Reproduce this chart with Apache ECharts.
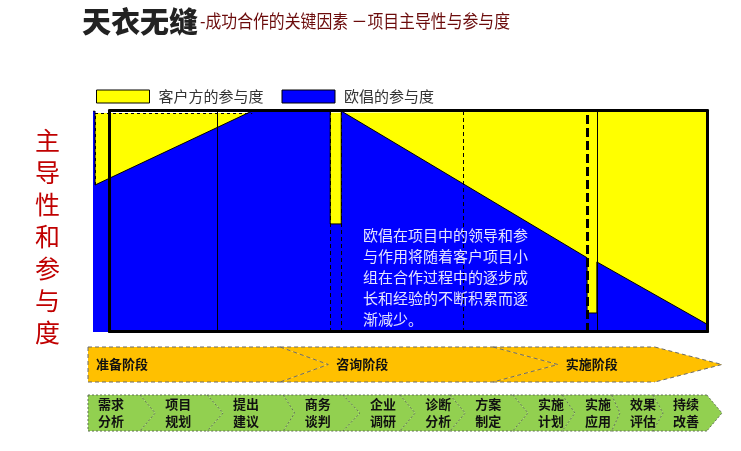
<!DOCTYPE html>
<html>
<head>
<meta charset="utf-8">
<script src="https://cdn.jsdelivr.net/npm/echarts/dist/echarts.min.js"></script>
<style>
  html, body { margin: 0; padding: 0; background: #fff; }
  #chart { width: 741px; height: 451px; }
</style>
</head>
<body>
<div id="chart"></div>
<script>
// Project progress runs 0–100 along x; involvement share runs 0–100 along y.
const ouchangShare = [
  [0, 100], [0.33, 100], [0.33, 66.5], [25.9, 100], [38.6, 100], [38.6, 48.9],
  [40.4, 48.9], [40.4, 100], [80.4, 33.6], [80.4, 8.6], [82.0, 8.6], [82.0, 31.7], [100, 3.4]
];
const clientShare = [[0.33, 99.1], [30, 99.1], [30, 100], [100, 100]];

// Milestone dividers on the progress axis
const solidDividers = [20.2, 82.0];
const dashedDividers = [38.6, 40.4, 60.2];
const stageDivider = 80.4;

// Phase band: name, where the chevron's shoulder sits, and where its tip points
const phaseNames = ['准备阶段', '咨询阶段', '实施阶段'];
const phaseEnd = [30.3, 63.9, 89.4];
const phaseTip = [37.9, 74.1, 100];

// Step band
const stepNames = ['需求\n分析', '项目\n规划', '提出\n建议', '商务\n谈判', '企业\n调研', '诊断\n分析',
  '方案\n制定', '实施\n计划', '实施\n应用', '效果\n评估', '持续\n改善'];
const stepEnd = [8.2, 18.8, 30.8, 40.2, 49.2, 57.1, 67.0, 74.8, 82.6, 89.1, 97.6];
const stepTip = [10.6, 21.3, 32.6, 42.9, 51.6, 59.5, 69.4, 76.8, 83.9, 90.7, 100];

const noteLines = ['欧倡在项目中的领导和参', '与作用将随着客户项目小', '组在合作过程中的逐步成',
  '长和经验的不断积累而逐', '渐减少。'];

const CJK = '"Noto Sans CJK SC", "Noto Sans", sans-serif';

function chevronData(ends, tips) {
  return ends.map((e, i) => [i ? ends[i - 1] : 0, i ? tips[i - 1] : 0, e, tips[i]]);
}

function chevronRenderer(names, fill, stroke, dash, font, lineHeight, gap) {
  return function (params, api) {
    const i = params.dataIndex;
    const prevEnd = api.value(0), prevTip = api.value(1), end = api.value(2), tip = api.value(3);
    const p = (x, y) => api.coord([x, y]);
    const edge = (pts) => ({ type: 'polyline', z2: 3, shape: { points: pts },
      style: { stroke: stroke, lineWidth: 1, lineDash: dash, fill: null } });
    const children = [
      { type: 'polygon', z2: 1,
        shape: { points: [p(prevEnd, 1), p(end, 1), p(tip, 0.5), p(end, 0), p(prevEnd, 0), p(prevTip, 0.5)] },
        style: { fill: fill } },
      edge([p(end, 1), p(tip, 0.5), p(end, 0)]),
      edge([p(prevEnd, 1), p(end, 1)]),
      edge([p(prevEnd, 0), p(end, 0)])
    ];
    if (i === 0) children.push(edge([p(0, 1), p(0, 0)]));
    const anchor = p(prevTip, 0.5);
    children.push({ type: 'text', z2: 4, x: anchor[0] + gap, y: anchor[1],
      style: { text: names[i], font: font, lineHeight: lineHeight, fill: '#111',
        verticalAlign: 'middle', align: 'left' } });
    return { type: 'group', children: children };
  };
}

// Thick black frame drawn from the axis lines of an empty grid
function frameAxis(pos) {
  return {
    type: 'value', gridIndex: 1, min: 0, max: 1, position: pos, z: 10,
    axisLine: { show: true, onZero: false, lineStyle: { color: '#000', width: 3 } },
    axisTick: { show: false }, axisLabel: { show: false }, splitLine: { show: false }
  };
}

const hiddenY = (g) => ({ type: 'value', gridIndex: g, min: 0, max: g === 0 ? 100 : 1, show: false });
const hiddenX = (g) => ({ type: 'value', gridIndex: g, min: 0, max: 100, show: false });

const chart = echarts.init(document.getElementById('chart'));
chart.setOption({
  animation: false,
  grid: [
    { left: 93, right: 33.5, top: 111, height: 221 },
    { left: 109.5, right: 33.5, top: 110.5, height: 221 },
    { left: 88, right: 19, top: 347, height: 35 },
    { left: 88, right: 19, top: 395, height: 36 }
  ],
  xAxis: [hiddenX(0), frameAxis('bottom'), frameAxis('top'), hiddenX(2), hiddenX(3)],
  yAxis: [hiddenY(0), frameAxis('left'), frameAxis('right'), hiddenY(2), hiddenY(3)],
  legend: {
    left: 91, top: 84, icon: 'rect', itemWidth: 53, itemHeight: 13, itemGap: 18,
    textStyle: { fontSize: 15, color: '#333', fontFamily: CJK, padding: [0, 0, 0, 4] },
    data: [
      { name: '客户方的参与度', itemStyle: { color: '#ffff00', borderColor: '#000', borderWidth: 1 } },
      { name: '欧倡的参与度', itemStyle: { color: '#0000ff', borderColor: '#000', borderWidth: 1 } }
    ]
  },
  series: [
    {
      name: '客户方的参与度', type: 'line', xAxisIndex: 0, yAxisIndex: 0,
      data: clientShare, symbol: 'none', color: '#ffff00',
      lineStyle: { width: 0 }, areaStyle: { color: '#ffff00', opacity: 1 },
      markLine: {
        silent: true, symbol: 'none', label: { show: false },
        lineStyle: { color: '#000', width: 1, type: [3, 3] },
        data: [
          [{ coord: clientShare[0] }, { coord: [ouchangShare[3][0], clientShare[0][1]] }],
          [{ coord: ouchangShare[2] }, { coord: clientShare[0] }]
        ]
      }
    },
    {
      name: '欧倡的参与度', type: 'line', xAxisIndex: 0, yAxisIndex: 0,
      data: ouchangShare, symbol: 'none', color: '#0000ff',
      lineStyle: { color: '#000', width: 1 }, areaStyle: { color: '#0000ff', opacity: 1 },
      markLine: {
        silent: true, symbol: 'none', label: { show: false },
        data: [
          ...solidDividers.map(x => ({ xAxis: x, lineStyle: { color: '#000', width: 1, type: 'solid' } })),
          ...dashedDividers.map(x => ({ xAxis: x, lineStyle: { color: '#000', width: 1, type: [4, 3] } })),
          { xAxis: stageDivider, lineStyle: { color: '#000', width: 3, type: [9, 4] } }
        ]
      }
    },
    {
      type: 'custom', xAxisIndex: 3, yAxisIndex: 3, clip: false, silent: true,
      data: chevronData(phaseEnd, phaseTip),
      renderItem: chevronRenderer(phaseNames, '#ffc000', '#6a6a6a', [4, 3],
        'bold 13px ' + CJK, 16, 8)
    },
    {
      type: 'custom', xAxisIndex: 4, yAxisIndex: 4, clip: false, silent: true,
      data: chevronData(stepEnd, stepTip),
      renderItem: chevronRenderer(stepNames, '#92d050', '#5f6f55', [2, 2],
        'bold 13px ' + CJK, 17, 10)
    }
  ],
  graphic: [
    { type: 'text', left: 82, top: 7, z: 100,
      style: { text: '天衣无缝', font: '900 29px ' + CJK, fill: '#222' } },
    { type: 'text', x: 200, y: 12, scaleX: 0.88, z: 100,
      style: { text: '-成功合作的关键因素 －项目主导性与参与度', font: '18px ' + CJK, fill: '#6b0b0b' } },
    { type: 'text', left: 35, top: 124, z: 100,
      style: { text: '主\n导\n性\n和\n参\n与\n度', font: '25px ' + CJK,
        lineHeight: 32, fill: '#c00000', align: 'center' } },
    { type: 'text', left: 363, top: 225, z: 100,
      style: { text: noteLines.join('\n'), font: '15px ' + CJK, lineHeight: 21, fill: '#e4e4ff' } }
  ]
});
</script>
</body>
</html>
